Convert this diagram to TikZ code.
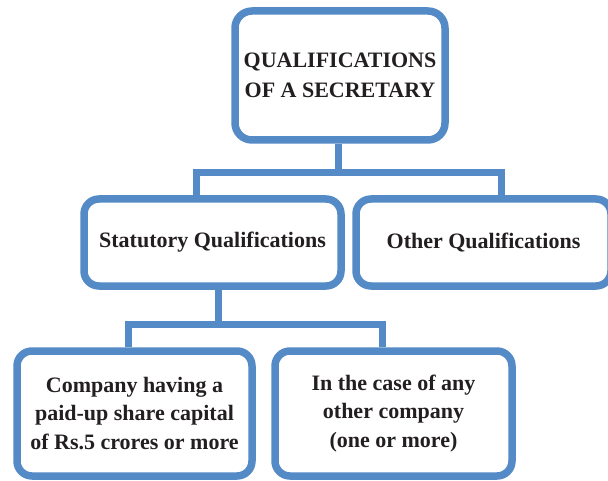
\documentclass[tikz,border=0pt]{standalone}
\usepackage{fontspec}
\setmainfont{Liberation Serif}
\usetikzlibrary{positioning}
\definecolor{secblue}{RGB}{84,138,197}
\definecolor{secink}{RGB}{35,31,32}
\tikzset{
	qbox/.style = {rectangle, draw=secblue, line width=7.5pt, fill=white,
	 rounded corners=15pt, inner sep=0pt, align=center, text=secink,
	 font=\bfseries\fontsize{22}{28.5}\selectfont},
	link/.style = {draw=secblue, line width=7pt},
}

\begin{document}
\begin{tikzpicture}[x=1pt,y=1pt]
  \useasboundingbox (0,0) rectangle (608,480);
  \clip (0,0) rectangle (608,480);
               \node at(340,404.5) (Secretary) [qbox, minimum width=210pt, minimum height=129pt,
                 rounded corners=17pt, font=\bfseries\fontsize{22}{30.5}\selectfont] {QUALIFICATIONS\\OF A SECRETARY};
               \node at(212.5,237.5) (Statutory) [qbox, minimum width=257pt, minimum height=87pt] {Statutory Qualifications};
               \node at(483.5,237.5) (Other) [qbox, minimum width=255pt, minimum height=87pt] {Other Qualifications};
               \node at(134.5,66.5) (Company) [qbox, minimum width=235pt, minimum height=125pt] {Company having a\\paid-up share capital\\of Rs.5 crores or more};
               \node at(393.5,66.5) (Any) [qbox, minimum width=237pt, minimum height=125pt] {In the case of any\\other company\\(one or more)};
               \coordinate (SplitA) at (196.5,307.5);
               \coordinate (SplitB) at (501.5,307.5);
               \coordinate (SplitC) at (128.5,156);
               \coordinate (SplitD) at (382,156);
               \draw[link] ([xshift=-1.5pt]Secretary.south) -- ([xshift=-1.5pt]Secretary.south |- SplitA);
               \draw[link] (Statutory.north -| SplitA) -- (SplitA) -- (SplitB) -- (Other.north -| SplitB);
               \draw[link] ([xshift=6pt]Statutory.south) -- ([xshift=6pt]Statutory.south |- SplitC);
               \draw[link] (Company.north -| SplitC) -- (SplitC) -- (SplitD) -- (Any.north -| SplitD);
        \end{tikzpicture}
\end{document}
